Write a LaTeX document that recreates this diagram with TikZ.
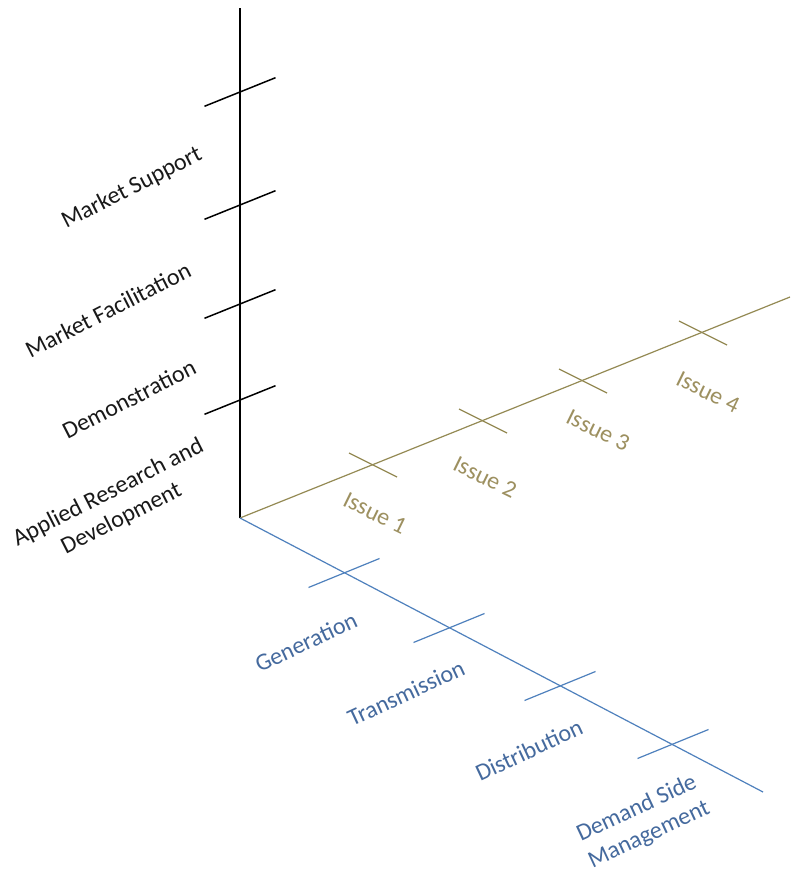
\documentclass[tikz,border=0pt]{standalone}
\usepackage{fontspec}
\setmainfont{Carlito}
\usetikzlibrary{calc}
\definecolor{axolive}{HTML}{948A54}
\definecolor{txolive}{HTML}{9D9060}
\definecolor{axblue}{HTML}{4F81BD}
\definecolor{txblue}{HTML}{456A9E}
\begin{document}
\begin{tikzpicture}[x=1pt,y=-1pt,
  vline/.style={black, line width=1.5pt},
  oline/.style={axolive, line width=1.2pt},
  bline/.style={axblue, line width=1.2pt},
  lab/.style={font=\fontsize{24}{29}\selectfont, align=center, inner sep=0pt},
  vlab/.style={lab, text=black!90, rotate=27},
  olab/.style={lab, text=txolive, rotate=-26},
  blab/.style={lab, text=txblue, rotate=25}
]
\useasboundingbox (0,0) rectangle (790,874);
\fill[white] (0,0) rectangle (790,874);
% axes
\coordinate (O) at (240,518);
\coordinate (Vtop) at (240,8);
\coordinate (Oend) at (790,297);
\coordinate (Bend) at (763,792);
\draw[vline] (O) -- (Vtop);
\draw[oline] (O) -- (Oend);
\draw[bline] (O) -- (Bend);
% vertical ticks
\foreach \n/\y in {v1/400,v2/304,v3/205,v4/92}{
  \coordinate (\n) at (240,\y);
  \draw[vline] ($(\n)+(-35.5,14.3)$) -- ($(\n)+(35.5,-14.3)$);
}
% olive ticks
\foreach \n/\x/\y in {o1/373/465,o2/483/421,o3/583/381,o4/703/333}{
  \coordinate (\n) at (\x,\y);
  \draw[oline] ($(\n)+(-24,-12)$) -- ($(\n)+(24,12)$);
}
% blue ticks
\foreach \n/\x/\y in {b1/344/573,b2/449/628,b3/560/686,b4/673/744}{
  \coordinate (\n) at (\x,\y);
  \draw[bline] ($(\n)+(-35.5,14.5)$) -- ($(\n)+(35.5,-14.5)$);
}
% vertical labels
\node[vlab] (ms) at (132,188) {Market Support};
\node[vlab] (mf) at (108,310) {Market Facilitation};
\node[vlab] (dm) at (129,399) {Demonstration};
\node[vlab] (ard) at (115,506) {Applied Research and\\Development};
% olive labels
\node[olab] (i1) at (375,513) {Issue 1};
\node[olab] (i2) at (485,477) {Issue 2};
\node[olab] (i3) at (598,430) {Issue 3};
\node[olab] (i4) at (708,392) {Issue 4};
% blue labels
\node[blab] (gen) at (306,642) {Generation};
\node[blab] (tr) at (406,693) {Transmission};
\node[blab] (dist) at (529,750) {Distribution};
\node[blab] (dsm) at (643,822) {Demand Side\\Management};
\end{tikzpicture}
\end{document}
